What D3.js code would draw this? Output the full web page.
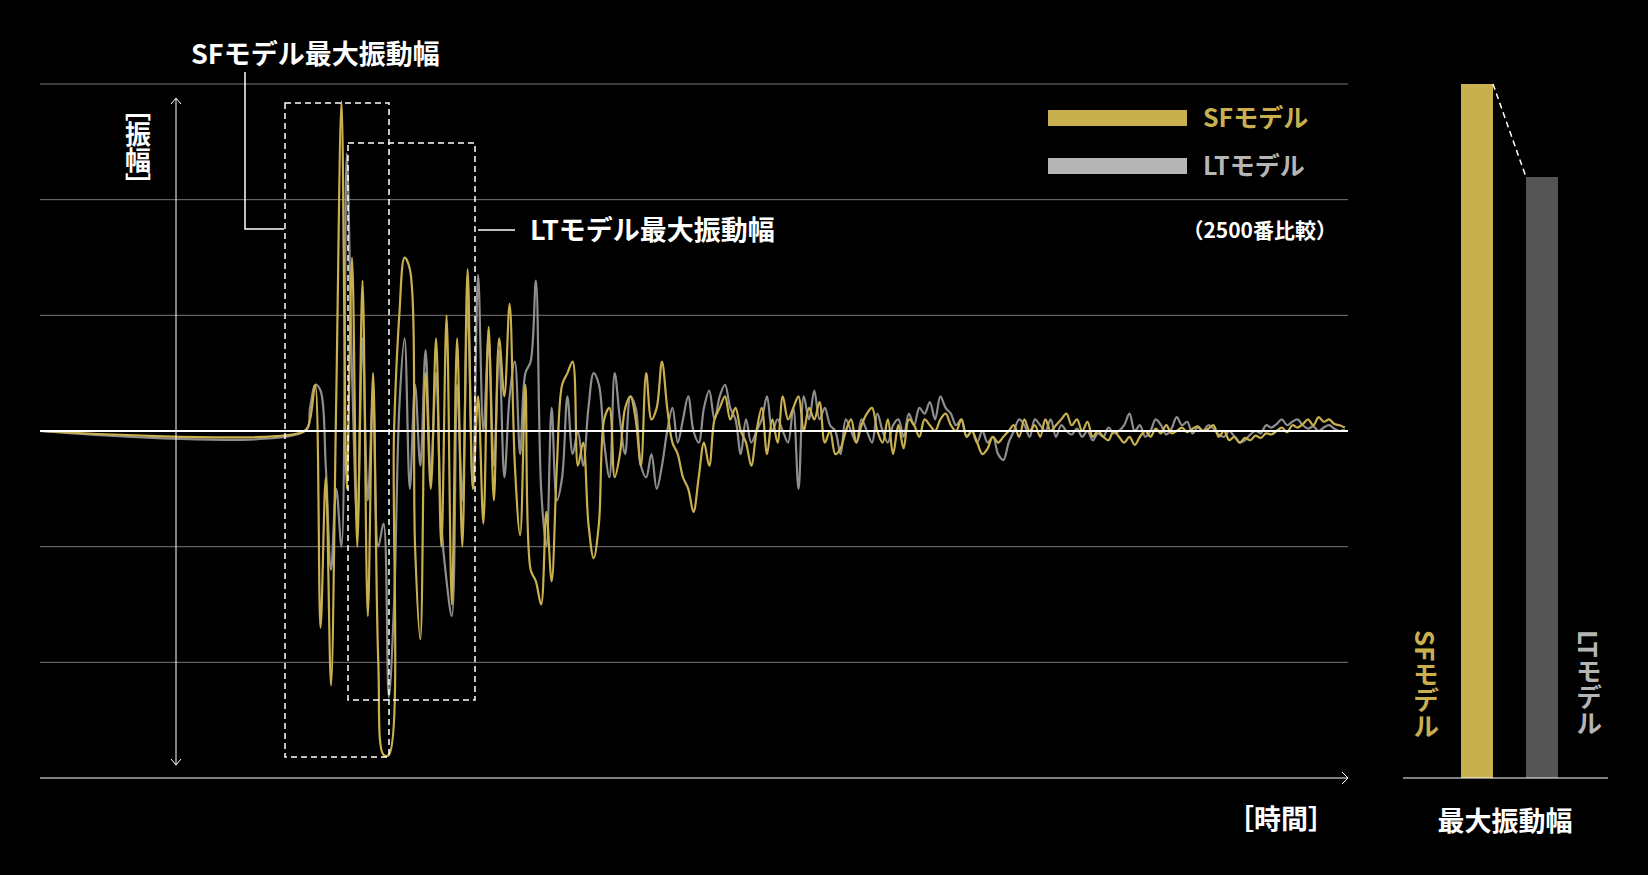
<!DOCTYPE html>
<html>
<head>
<meta charset="utf-8">
<script src="https://d3js.org/d3.v7.min.js"></script>
<style>
  body { margin: 0; background: #000; }
  text { font-family: "Noto Sans CJK JP", "Noto Sans", sans-serif; font-weight: bold; }
</style>
</head>
<body>
<svg id="chart" width="1648" height="875"></svg>
<script>
// waveform samples: time starts at t0, step dt (time units), amplitude in grid units
var t0 = 252, dt = 5;
var sfValues = [0,0.1,0.4,-1.7,-0.4,-2.2,0.3,2.85,-0.5,1.5,-1.0,1.3,-1.6,0.5,-2.0,-2.8,-2.8,0.0,1.0,1.5,1.4,-1.0,-1.8,0.5,-0.5,0.8,-1.0,1.0,-1.5,0.8,-1.0,1.4,-0.5,0.3,-0.8,0.9,-0.6,0.8,0.3,1.1,-0.3,-0.9,0.4,-1.2,-1.3,-1.5,-0.7,-1.3,-0.3,0.4,0.5,0.6,-0.3,-0.1,-0.8,-1.1,-0.8,0.1,0.2,-0.4,-0.2,0.2,0.3,0.1,-0.3,0.5,0.1,0.2,0.6,0.2,-0.1,-0.2,-0.4,-0.5,-0.7,-0.4,-0.1,-0.3,0.1,0.2,0.3,0.1,0.2,0.0,-0.1,-0.3,0.0,0.2,-0.2,0.1,-0.1,0.3,0.1,0.2,0.3,0.0,0.2,0.1,0.25,-0.1,0.0,-0.2,-0.15,0.0,0.1,-0.1,0.05,0.15,0.2,0.0,-0.1,0.1,-0.2,0.05,-0.15,0.1,0.05,-0.05,0.1,0.05,0.0,0.1,0.15,0.05,0.0,0.1,-0.05,0.0,-0.1,-0.2,-0.15,-0.05,-0.1,-0.05,0.0,0.05,-0.05,0.1,0.0,0.05,-0.05,0.1,0.0,0.05,0.1,0.15,0.05,0.1,0.0,0.08,-0.05,0.0,-0.05,-0.08,0.0,-0.05,-0.1,-0.05,-0.12,-0.05,0.0,-0.05,0.02,-0.02,0.05,-0.02,0.0,0.03,-0.01,0.02,0.04,0.0,0.02,0.05,-0.05,0.0,-0.08,-0.05,-0.1,-0.06,-0.08,-0.04,-0.06,-0.02,-0.03,0.0,0.03,-0.01,0.05,0.03,0.06,0.1,0.05,0.12,0.08,0.1,0.06,0.05,0.03];
var ltValues = [0,0.2,0.4,0.35,-0.3,-1.2,-0.5,-1.0,2.4,0.5,-0.8,0.8,-0.6,0.3,-1.0,-0.8,-2.3,-1.5,0.2,0.8,-0.5,0.4,-0.3,0.7,-0.4,0.5,-0.8,-1.3,-1.6,0.4,-0.6,1.1,-0.5,1.35,0.0,0.8,-0.3,0.7,-0.4,0.3,0.6,-0.2,0.5,0.6,1.3,-0.5,-1.0,0.2,-0.6,-0.4,0.3,-0.2,0.0,-0.3,0.2,0.5,0.4,-0.1,-0.4,0.5,0.1,-0.2,0.3,0.2,-0.3,-0.4,-0.2,-0.5,-0.3,0.0,0.2,-0.1,0.1,0.3,0.0,-0.1,0.2,0.35,0.1,0.3,0.4,0.2,0.1,-0.2,0.1,-0.1,0.0,0.1,0.3,0.0,0.1,0.0,-0.1,0.2,-0.5,0.3,0.1,0.35,0.1,0.2,0.05,0.0,-0.2,0.1,0.0,-0.1,0.1,0.0,-0.1,0.15,0.0,-0.1,0.05,0.1,-0.05,0.15,0.05,0.2,0.15,0.25,0.1,0.3,0.2,0.15,0.05,0.1,-0.05,0.0,-0.1,0.0,-0.1,-0.05,-0.2,-0.25,-0.1,0.0,0.1,0.05,-0.05,0.1,0.05,0.0,0.1,-0.05,0.05,0.0,-0.03,0.02,-0.05,0.0,-0.08,-0.02,-0.05,0.03,-0.02,0.0,0.05,0.15,0.0,0.05,-0.05,0.0,0.1,0.05,-0.03,0.02,0.12,0.05,0.08,-0.02,0.03,0.0,0.05,0.02,-0.03,-0.05,0.0,-0.05,-0.1,-0.08,-0.03,0.0,-0.02,0.05,0.03,0.06,0.1,0.05,0.08,0.1,0.05,0.02,0.04,0.0,0.03,0.05,0.02,0.0,0.01];
var gridLevels = [3, 2, 1, -1, -2];
var barNames = ["SFモデル", "LTモデル"];
var barValues = [1.0, 0.866];
var SF = "#c9b04f", LT = "#a8a8a8";

var svg = d3.select("#chart");
svg.append("rect").attr("width", 1648).attr("height", 875).attr("fill", "#000");

var x = d3.scaleLinear().domain([0, 1245]).range([40, 1348]);
var y = d3.scaleLinear().domain([-3, 3]).range([778, 84]);

// grid
svg.selectAll(".grid").data(gridLevels).join("line")
  .attr("x1", 40).attr("x2", 1348).attr("y1", d => y(d)).attr("y2", d => y(d))
  .attr("stroke", "#777").attr("stroke-width", 1);

function series(vals) {
  var pts = [[0, 0]];
  vals.forEach(function(v, i) { pts.push([t0 + i * dt, v]); });
  return pts;
}
var line = d3.line().x(d => x(d[0])).y(d => y(d[1])).curve(d3.curveCatmullRom);

svg.append("path").datum(series(ltValues)).attr("d", line)
  .attr("fill", "none").attr("stroke", "#8e8e8e").attr("stroke-width", 2.2);
svg.append("path").datum(series(sfValues)).attr("d", line)
  .attr("fill", "none").attr("stroke", SF).attr("stroke-width", 2.2);

// zero line and time axis
svg.append("line").attr("x1", 40).attr("x2", 1348).attr("y1", y(0)).attr("y2", y(0))
  .attr("stroke", "#fff").attr("stroke-width", 2);
svg.append("line").attr("x1", 40).attr("x2", 1348).attr("y1", 778).attr("y2", 778)
  .attr("stroke", "#fff").attr("stroke-width", 1.2);
svg.append("path").attr("d", "M1342,772 L1348,778 L1342,784").attr("fill", "none").attr("stroke", "#fff");

// amplitude arrow
svg.append("line").attr("x1", 176).attr("x2", 176).attr("y1", 98).attr("y2", 765).attr("stroke", "#fff");
svg.append("path").attr("d", "M171,104 L176,98 L181,104 M171,759 L176,765 L181,759").attr("fill", "none").attr("stroke", "#fff");
svg.append("text").attr("x", 138).attr("y", 95).attr("fill", "#fff").attr("font-size", 26)
  .attr("writing-mode", "vertical-rl").attr("text-anchor", "start").text("［振幅］");

// dashed boxes
var dash = "6,4";
svg.append("rect").attr("x", 285).attr("y", 103).attr("width", 104).attr("height", 654)
  .attr("fill", "none").attr("stroke", "#fff").attr("stroke-dasharray", dash).attr("stroke-width", 1.5);
svg.append("rect").attr("x", 348).attr("y", 143).attr("width", 127).attr("height", 557)
  .attr("fill", "none").attr("stroke", "#fff").attr("stroke-dasharray", dash).attr("stroke-width", 1.5);

// callouts
svg.append("path").attr("d", "M245,72 L245,229 L284,229").attr("fill", "none").attr("stroke", "#fff").attr("stroke-width", 1.5);
svg.append("text").attr("x", 191).attr("y", 64).attr("fill", "#fff").attr("font-size", 27).text("SFモデル最大振動幅");
svg.append("line").attr("x1", 478).attr("x2", 515).attr("y1", 230).attr("y2", 230).attr("stroke", "#fff").attr("stroke-width", 1.5);
svg.append("text").attr("x", 530).attr("y", 240).attr("fill", "#fff").attr("font-size", 27).text("LTモデル最大振動幅");

// legend
[[SF, "SFモデル", 118], ["#b5b5b5", "LTモデル", 166]].forEach(function(l) {
  svg.append("rect").attr("x", 1048).attr("y", l[2] - 8).attr("width", 139).attr("height", 16).attr("fill", l[0]);
  svg.append("text").attr("x", 1203).attr("y", l[2] + 9).attr("fill", l[0] === SF ? SF : "#b5b5b5")
    .attr("font-size", 25).text(l[1]);
});
svg.append("text").attr("x", 1337).attr("y", 238).attr("text-anchor", "end").attr("fill", "#fff")
  .attr("font-size", 21).attr("font-weight", "normal").text("（2500番比較）");
svg.append("text").attr("x", 1335).attr("y", 829).attr("text-anchor", "end").attr("fill", "#fff")
  .attr("font-size", 27).text("［時間］");

// right bar chart
var bx = d3.scaleBand().domain(barNames).range([1446, 1573]).paddingInner(1.0).paddingOuter(0.25);
var by = d3.scaleLinear().domain([0, 1]).range([778, 84]);
var bw = 32;
var barX = [1461, 1526];
svg.selectAll(".bar").data(barValues).join("rect")
  .attr("x", (d, i) => barX[i]).attr("width", bw)
  .attr("y", d => by(d)).attr("height", d => 778 - by(d))
  .attr("fill", (d, i) => i === 0 ? SF : "#555");
svg.append("line").attr("x1", barX[0] + bw).attr("y1", by(barValues[0]))
  .attr("x2", barX[1]).attr("y2", by(barValues[1]))
  .attr("stroke", "#fff").attr("stroke-dasharray", "6,4").attr("stroke-width", 1.5);
svg.append("line").attr("x1", 1403).attr("x2", 1608).attr("y1", 778).attr("y2", 778).attr("stroke", "#fff").attr("stroke-width", 1.2);
svg.selectAll(".blabel").data(barNames).join("text")
  .attr("x", (d, i) => i === 0 ? 1426 : 1589).attr("y", 630)
  .attr("writing-mode", "vertical-rl").attr("fill", (d, i) => i === 0 ? SF : "#b5b5b5")
  .attr("font-size", 26).text(d => d);
svg.append("text").attr("x", 1505).attr("y", 831).attr("text-anchor", "middle").attr("fill", "#fff")
  .attr("font-size", 27).text("最大振動幅");
</script>
</body>
</html>
